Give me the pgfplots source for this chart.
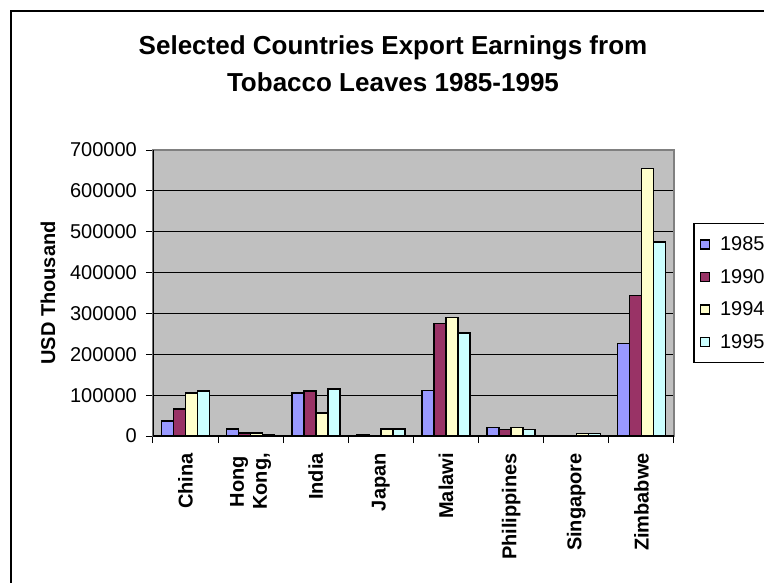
\documentclass[border=0pt]{standalone}
\usepackage{fontspec}
\setmainfont{Liberation Sans}
\usepackage{pgfplots}
\pgfplotsset{compat=1.18}
\definecolor{c85}{HTML}{9999FF}
\definecolor{c90}{HTML}{993366}
\definecolor{c94}{HTML}{FFFFCC}
\definecolor{c95}{HTML}{CCFFFF}
\definecolor{plotbg}{HTML}{C0C0C0}
\begin{document}
\begin{tikzpicture}
\useasboundingbox (0pt,0pt) rectangle (764pt,582pt);
\draw[line width=1.6pt] (11pt,-20pt) rectangle (800pt,571pt);
\node[anchor=base, font=\fontsize{26}{30}\selectfont\bfseries] at (393pt,527pt) {Selected Countries Export Earnings from};
\node[anchor=base, font=\fontsize{26}{30}\selectfont\bfseries] at (393pt,490pt) {Tobacco Leaves 1985-1995};
\node[rotate=90, font=\fontsize{20}{24}\selectfont\bfseries] at (48pt,289pt) {USD Thousand};
\begin{axis}[
  at={(153pt,146pt)}, anchor=south west,
  width=521pt, height=286pt, scale only axis,
  axis background/.style={fill=plotbg},
  ybar=0pt, bar width=12pt,
  xmin=-0.5, xmax=7.5, ymin=0, ymax=700000,
  xtick={0,...,7},
  xticklabels={China,{Hong\\Kong,},India,Japan,Malawi,Philippines,Singapore,Zimbabwe},
  minor xtick={-0.5,0.5,...,7.5},
  ytick={0,100000,...,700000},
  scaled y ticks=false,
  /pgf/number format/assume math mode=true,
  /pgf/number format/fixed,
  /pgf/number format/1000 sep={},
  tick align=outside, xtick pos=left, ytick pos=left,
  major x tick style={draw=none},
  major tick length=7pt, minor tick length=7pt,
  tick style={black, line width=1pt},
  axis line style={draw=black!50, line width=1.2pt},
  ymajorgrids, major grid style={black, line width=0.9pt},
  yticklabel style={font=\fontsize{20}{24}\selectfont, inner sep=0pt, xshift=-9pt},
  xticklabel style={rotate=90, anchor=east, align=center, inner sep=0pt, font=\fontsize{20}{23}\selectfont\bfseries},
  xticklabel shift=10pt,
  every axis plot post/.append style={draw=black, line width=1.4pt,
    legend image code/.code={\draw[##1,draw=black,line width=1.3pt] (0pt,-4.5pt) rectangle (9pt,4.5pt); \path (17pt,0pt);}},
  legend style={at={(axis description cs:1.0365,0.7448)}, anchor=north west,
    draw=black, line width=1.5pt, font=\fontsize{20}{23}\selectfont,
    inner xsep=6pt, inner ysep=11pt, row sep=13pt, cells={anchor=west}},
  legend cell align=left,
]
\addplot[fill=c85] coordinates {(0,36700) (1,17000) (2,105000) (3,2000) (4,111000) (5,21000) (6,0) (7,227000)};
\addplot[fill=c90] coordinates {(0,66000) (1,7000) (2,110000) (3,0) (4,276000) (5,16000) (6,0) (7,344000)};
\addplot[fill=c94] coordinates {(0,105000) (1,7000) (2,56000) (3,17000) (4,290000) (5,21000) (6,6500) (7,654000)};
\addplot[fill=c95] coordinates {(0,110000) (1,2000) (2,115000) (3,17000) (4,252000) (5,16000) (6,6500) (7,475000)};
\legend{1985\hspace{40pt},1990,1994,1995}
\draw[black, line width=2pt] (rel axis cs:0,1) -- (rel axis cs:0,0) -- (rel axis cs:1,0);
\end{axis}
\end{tikzpicture}
\end{document}
